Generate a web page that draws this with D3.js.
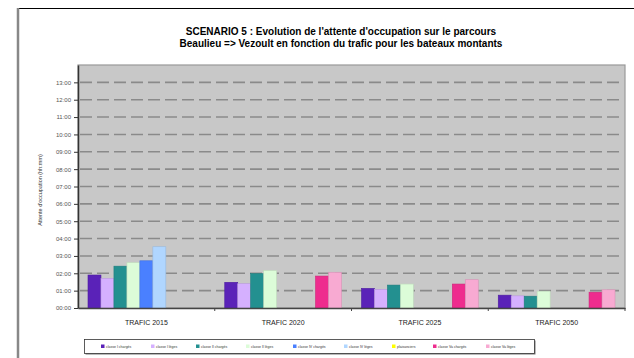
<!DOCTYPE html>
<html><head><meta charset="utf-8">
<script src="https://cdn.jsdelivr.net/npm/d3@7/dist/d3.min.js"></script>
<style>body{margin:0;background:#fff;}svg{display:block;font-family:"Liberation Sans",Arial,sans-serif;}</style>
</head><body>
<svg id="c" width="634" height="358"></svg>
<script>
const categories = ["TRAFIC 2015", "TRAFIC 2020", "TRAFIC 2025", "TRAFIC 2050"];
const seriesNames = ["classe I chargés", "classe I lèges", "classe II chargés", "classe II lèges", "classe IV chargés", "classe IV lèges", "plaisanciers", "classe Va chargés", "classe Va lèges"];
const seriesColors = ["#5a22b8", "#d5b0ff", "#239090", "#dcfcd8", "#4a80ff", "#b0d6ff", "#ffff00", "#ee2c8e", "#f8aad2"];
// values in hours, per category
const classeICharges = [1.90, 1.48, 1.13, 0.74];
const classeILeges = [1.71, 1.40, 1.07, 0.70];
const classeIICharges = [2.41, 1.98, 1.32, 0.68];
const classeIILeges = [2.62, 2.16, 1.38, 0.97];
const classeIVCharges = [2.72, 0, 0, 0];
const classeIVLeges = [3.53, 0, 0, 0];
const plaisanciers = [0, 0, 0, 0];
const classeVaCharges = [0, 1.84, 1.38, 0.91];
const classeVaLeges = [0, 2.06, 1.63, 1.05];
const yTicks = [0,1,2,3,4,5,6,7,8,9,10,11,12,13];
const yTickLabels = ["00:00","01:00","02:00","03:00","04:00","05:00","06:00","07:00","08:00","09:00","10:00","11:00","12:00","13:00"];

const seriesValues = [classeICharges, classeILeges, classeIICharges, classeIILeges, classeIVCharges, classeIVLeges, plaisanciers, classeVaCharges, classeVaLeges];

const svg = d3.select("#c");
// outer frame
svg.append("line").attr("x1",17).attr("x2",634).attr("y1",8.5).attr("y2",8.5).attr("stroke","#000").attr("stroke-width",1);
svg.append("line").attr("x1",18).attr("x2",18).attr("y1",8).attr("y2",358).attr("stroke","#888").attr("stroke-width",2.5);

// title
svg.append("text").attr("x",341).attr("y",34.5).attr("text-anchor","middle").attr("font-size",10).attr("font-weight","bold").text("SCENARIO 5 : Evolution de l'attente d'occupation sur le parcours");
svg.append("text").attr("x",341).attr("y",46.5).attr("text-anchor","middle").attr("font-size",10).attr("font-weight","bold").text("Beaulieu => Vezoult en fonction du trafic pour les bateaux montants");

const L = 78, R = 625, T = 65, B = 308;
const x = d3.scaleBand().domain(categories).range([L, R]).padding(0);
const x1 = d3.scaleBand().domain(seriesNames).range([10, x.bandwidth() - 10]).padding(0);
const y = d3.scaleLinear().domain([0, 14]).range([B, T]);

svg.append("rect").attr("x",L).attr("y",T).attr("width",R-L).attr("height",B-T).attr("fill","#c8c8c8").attr("stroke","#999").attr("stroke-width",1.2);

// gridlines
svg.append("g").selectAll("line").data(yTicks.filter(d=>d>0)).join("line")
  .attr("x1",L+2).attr("x2",R-1).attr("y1",d=>y(d)).attr("y2",d=>y(d))
  .attr("stroke","#8a8a8a").attr("stroke-width",1.6).attr("stroke-dasharray","12,5");

// bars
const g = svg.append("g");
categories.forEach((c, ci) => {
  seriesNames.forEach((s, si) => {
    const v = seriesValues[si][ci];
    if (v <= 0) return;
    const col = d3.color(seriesColors[si]);
    g.append("rect").attr("x", x(c) + x1(s)).attr("y", y(v)).attr("width", x1.bandwidth()).attr("height", y(0) - y(v))
      .attr("fill", seriesColors[si]).attr("stroke", col.darker(0.4)).attr("stroke-width", 0.6);
  });
});

// y axis
const yAxis = d3.axisLeft(y).tickValues(yTicks).tickFormat((d,i)=>yTickLabels[i]).tickSize(4).tickSizeOuter(0);
const ya = svg.append("g").attr("transform",`translate(${L},0)`).call(yAxis);
ya.select(".domain").attr("stroke","#333").attr("stroke-width",1.5);
ya.selectAll(".tick line").attr("stroke","#333");
ya.selectAll(".tick text").attr("font-size",6).attr("fill","#555").attr("x",-7).attr("font-family","Liberation Sans, Arial, sans-serif");

// x axis
const xAxis = d3.axisBottom(x).tickSize(0).tickSizeOuter(0);
const xa = svg.append("g").attr("transform",`translate(0,${B})`).call(xAxis);
xa.select(".domain").attr("stroke","#444").attr("stroke-width",1.5);
xa.selectAll(".tick text").attr("font-size",7).attr("fill","#222").attr("dy",0).attr("y",17).attr("font-family","Liberation Sans, Arial, sans-serif");
// boundary tick marks
svg.append("g").selectAll("line").data(categories.slice(1).map(c=>x(c)).concat([R])).join("line")
  .attr("x1",d=>d).attr("x2",d=>d).attr("y1",B).attr("y2",B+3).attr("stroke","#444").attr("stroke-width",1);

// y axis title
svg.append("text").attr("transform","translate(42,190) rotate(-90)").attr("text-anchor","middle").attr("font-size",5.5).attr("fill","#333").text("Attente d'occupation (hh:mm)");

// legend
svg.append("rect").attr("x",85.5).attr("y",340.5).attr("width",450).attr("height",14).attr("fill","#777");
svg.append("rect").attr("x",84.5).attr("y",339.5).attr("width",450).attr("height",14).attr("fill","#fff").attr("stroke","#333").attr("stroke-width",0.8);
const legendX = [101, 151, 196, 246, 293, 344, 392, 433, 486];
seriesNames.forEach((s, i) => {
  svg.append("rect").attr("x",legendX[i]).attr("y",344.5).attr("width",3.5).attr("height",3.5).attr("fill",seriesColors[i]);
  svg.append("text").attr("x",legendX[i]+5).attr("y",347.8).attr("font-size",3.5).attr("fill","#333").text(s);
});
</script>
</body></html>
